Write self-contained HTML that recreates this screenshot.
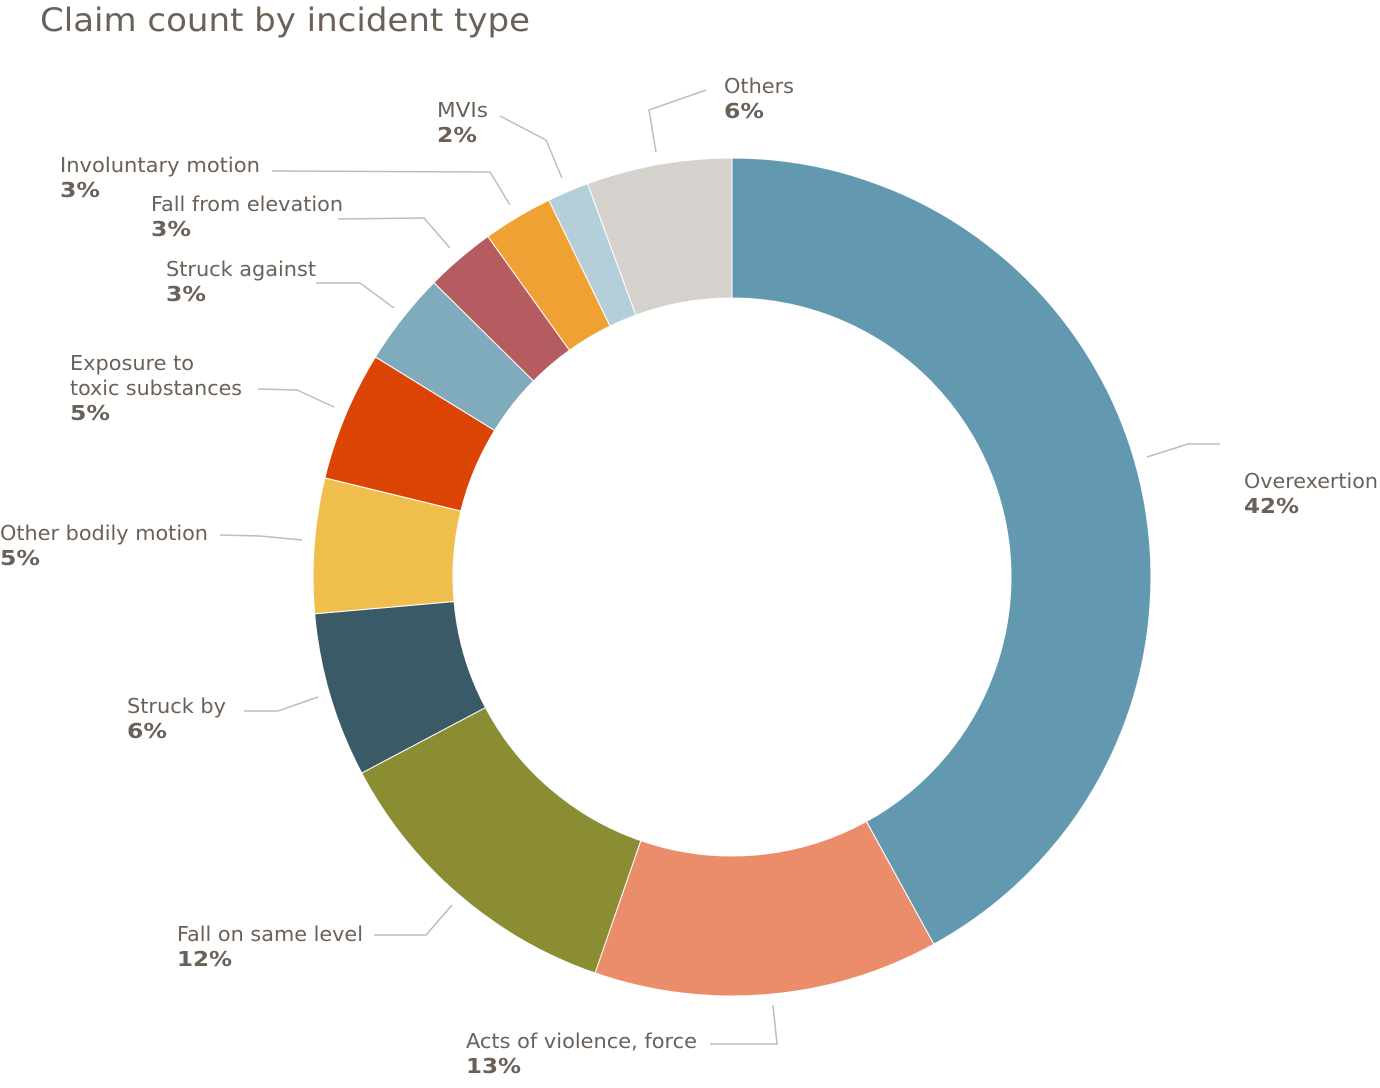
<!DOCTYPE html>
<html><head><meta charset="utf-8"><style>
html,body{margin:0;padding:0;background:#fff;}
svg{display:block;}
text{font-family:"DejaVu Sans","Liberation Sans",sans-serif;fill:#6b6158;font-size:20.5px;}
.b{font-weight:bold;}
</style></head><body>
<svg id="s" width="1380" height="1088" viewBox="0 0 1380 1088" xmlns="http://www.w3.org/2000/svg">
<text x="40" y="31" style="font-size:32px" textLength="490" lengthAdjust="spacingAndGlyphs">Claim count by incident type</text>
<g id="d"></g>
<g stroke="#bdbdbd" stroke-width="1.5" fill="none">
<polyline points="656,152 649,110 706,90"/>
<polyline points="562,178 546,140 500,116"/>
<polyline points="510,205 490,172 272,171"/>
<polyline points="450,248 424,218 338,219"/>
<polyline points="394,308 360,283 316,283"/>
<polyline points="334,407 297,390 258,389"/>
<polyline points="302,540 260,536 220,535"/>
<polyline points="318,697 278,711 244,711"/>
<polyline points="452,905 426,935 374,935"/>
<polyline points="773,1005 777,1044 710,1044"/>
<polyline points="1147,457 1188,444 1220,444"/>
</g>
<g lengthAdjust="spacingAndGlyphs">
<text x="724" y="93" textLength="70" lengthAdjust="spacingAndGlyphs">Others</text><text class="b" x="724" y="118" textLength="40" lengthAdjust="spacingAndGlyphs">6%</text>
<text x="437" y="117" textLength="51" lengthAdjust="spacingAndGlyphs">MVIs</text><text class="b" x="437" y="142" textLength="40" lengthAdjust="spacingAndGlyphs">2%</text>
<text x="60" y="172" textLength="200" lengthAdjust="spacingAndGlyphs">Involuntary motion</text><text class="b" x="60" y="197" textLength="40" lengthAdjust="spacingAndGlyphs">3%</text>
<text x="151" y="211" textLength="192" lengthAdjust="spacingAndGlyphs">Fall from elevation</text><text class="b" x="151" y="236" textLength="40" lengthAdjust="spacingAndGlyphs">3%</text>
<text x="166" y="276" textLength="150" lengthAdjust="spacingAndGlyphs">Struck against</text><text class="b" x="166" y="301" textLength="40" lengthAdjust="spacingAndGlyphs">3%</text>
<text x="70" y="370" textLength="124" lengthAdjust="spacingAndGlyphs">Exposure to</text><text x="70" y="395" textLength="172" lengthAdjust="spacingAndGlyphs">toxic substances</text><text class="b" x="70" y="420" textLength="40" lengthAdjust="spacingAndGlyphs">5%</text>
<text x="0" y="540" textLength="208" lengthAdjust="spacingAndGlyphs">Other bodily motion</text><text class="b" x="0" y="565" textLength="40" lengthAdjust="spacingAndGlyphs">5%</text>
<text x="127" y="713" textLength="99" lengthAdjust="spacingAndGlyphs">Struck by</text><text class="b" x="127" y="738" textLength="40" lengthAdjust="spacingAndGlyphs">6%</text>
<text x="177" y="941" textLength="186" lengthAdjust="spacingAndGlyphs">Fall on same level</text><text class="b" x="177" y="966" textLength="55" lengthAdjust="spacingAndGlyphs">12%</text>
<text x="466" y="1048" textLength="231" lengthAdjust="spacingAndGlyphs">Acts of violence, force</text><text class="b" x="466" y="1073" textLength="55" lengthAdjust="spacingAndGlyphs">13%</text>
<text x="1244" y="488" textLength="134" lengthAdjust="spacingAndGlyphs">Overexertion</text><text class="b" x="1244" y="513" textLength="55" lengthAdjust="spacingAndGlyphs">42%</text>
</g>
</svg>
<script>
var cx=732,cy=577,R=419,r=279;
var ends=[0.42,0.553,0.6725,0.736,0.788,0.838,0.874,0.901,0.928,0.944,1];
var cols=["#6399b0","#eb8d6b","#8a8d32","#3b5a68","#f0be4b","#dc4405","#80abbd","#b55c60","#f0a133","#b4cfd9","#d5d1cd"];
var g=document.getElementById("d"),s=0,h="";
function p(f,rad){var a=f*2*Math.PI;return (cx+rad*Math.sin(a)).toFixed(2)+","+(cy-rad*Math.cos(a)).toFixed(2);}
for(var i=0;i<ends.length;i++){var e=ends[i],lg=(e-s)>0.5?1:0;
h+='<path fill="'+cols[i]+'" stroke="#fff" stroke-width="1" d="M'+p(s,R)+' A'+R+','+R+' 0 '+lg+' 1 '+p(e,R)+' L'+p(e,r)+' A'+r+','+r+' 0 '+lg+' 0 '+p(s,r)+' Z"/>';s=e;}
g.innerHTML=h;
</script>
</body></html>
